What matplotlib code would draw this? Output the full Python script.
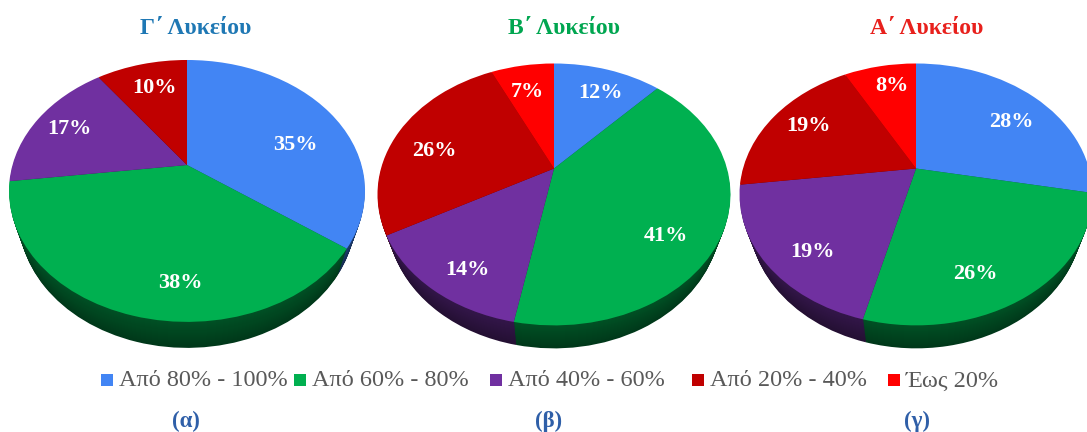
import numpy as np
import matplotlib
matplotlib.use('Agg')
import matplotlib.pyplot as plt
from matplotlib.colors import to_rgb
from matplotlib.path import Path
from matplotlib.transforms import Transform

plt.rcParams['font.family'] = ['Liberation Serif', 'DejaVu Serif']

titles = ['Γ΄ Λυκείου', 'Β΄ Λυκείου', 'Α΄ Λυκείου']
captions = ['(α)', '(β)', '(γ)']
categories = ['Από 80% - 100%', 'Από 60% - 80%', 'Από 40% - 60%', 'Από 20% - 40%', 'Έως 20%']
values_c = [35, 38, 17, 10]
values_b = [12, 41, 14, 26, 7]
values_a = [28, 26, 19, 19, 8]

colors_c = ['#4285f4', '#00b050', '#7030a0', '#c00000']
colors = ['#4285f4', '#00b050', '#7030a0', '#c00000', '#ff0000']
title_colors = ['#1f78b4', '#00a650', '#e8201c']


class Tilt(Transform):
    # unit pie -> tilted disc in pixels, centre of the pie sits above the middle of the ellipse
    input_dims = 2
    output_dims = 2

    def __init__(self, cx, cy, sx, sy, p, drop=0):
        super().__init__()
        self.cx, self.cy, self.sx, self.sy, self.p, self.drop = cx, cy, sx, sy, p, drop

    def transform_non_affine(self, xy):
        xy = np.asarray(xy)
        w = 1 + self.p * xy[:, 1]
        return np.column_stack([self.cx + self.sx * xy[:, 0] / w,
                                self.cy + self.drop - self.sy * xy[:, 1] / w])

    def transform_path_non_affine(self, path):
        return Path(self.transform_non_affine(path.vertices), path.codes)


fig = plt.figure(figsize=(10.87, 4.32), dpi=100)
ax = fig.add_axes([0, 0, 1, 1])


def tilted_pie(vals, cols, cx, cy, sx, sy, p, depth):
    # side first, one dark layer per pixel, lower layers get narrower so the side fades out
    for d in range(depth, 0, -1):
        shade = 0.32 + 0.14 * (depth - d) / depth
        dark = [tuple(c * shade for c in to_rgb(k)) for k in cols]
        wedges, _ = ax.pie(vals, colors=dark, startangle=90, counterclock=False, radius=1)
        for w in wedges:
            w.set_transform(Tilt(cx, cy, sx * (1 - 0.055 * d / depth), sy, p, d) + ax.transData)
            w.set_clip_on(True)
    wedges, _ = ax.pie(vals, colors=cols, startangle=90, counterclock=False, radius=1)
    for w in wedges:
        w.set_transform(Tilt(cx, cy, sx, sy, p) + ax.transData)
        w.set_clip_on(True)


tilted_pie(values_c, colors_c, 187, 165, 174.5, 125.8, 0.198, 26)
tilted_pie(values_b, colors, 554, 168.5, 173, 125.8, 0.198, 23)
tilted_pie(values_a, colors, 916, 168.5, 173, 125.8, 0.198, 23)

ax.set_aspect('auto')
ax.set_xlim(0, 1087)
ax.set_ylim(432, 0)
ax.axis('off')

# percent labels
label_pos_c = [(295, 145), (180, 283), (69, 129), (155, 88)]
label_pos_b = [(600, 93), (666, 236), (467, 270), (434, 151), (527, 92)]
label_pos_a = [(1011, 122), (975, 274), (812, 252), (809, 126), (892, 86)]
for vals, pos in [(values_c, label_pos_c), (values_b, label_pos_b), (values_a, label_pos_a)]:
    for v, (x, y) in zip(vals, pos):
        ax.text(x, y, f'{v}%', color='white', fontsize=16, fontweight='bold', ha='center', va='center')

for t, c, x in zip(titles, title_colors, [196, 564, 927]):
    ax.text(x, 28, t, color=c, fontsize=17, fontweight='bold', ha='center', va='center')
for t, x in zip(captions, [186, 549, 917]):
    ax.text(x, 421, t, color='#2f5fa8', fontsize=16.5, fontweight='bold', ha='center', va='center')

# legend entries are not evenly spaced in the original
legend_x = [100, 293, 489, 691, 887]
for name, c, x in zip(categories, colors, legend_x):
    ax.scatter([x + 7], [380], marker='s', s=85, color=c, linewidths=0)
    ax.text(x + 19, 381, name, color='#595959', fontsize=17.5, ha='left', va='center')

fig.savefig('out.png', dpi=100)
